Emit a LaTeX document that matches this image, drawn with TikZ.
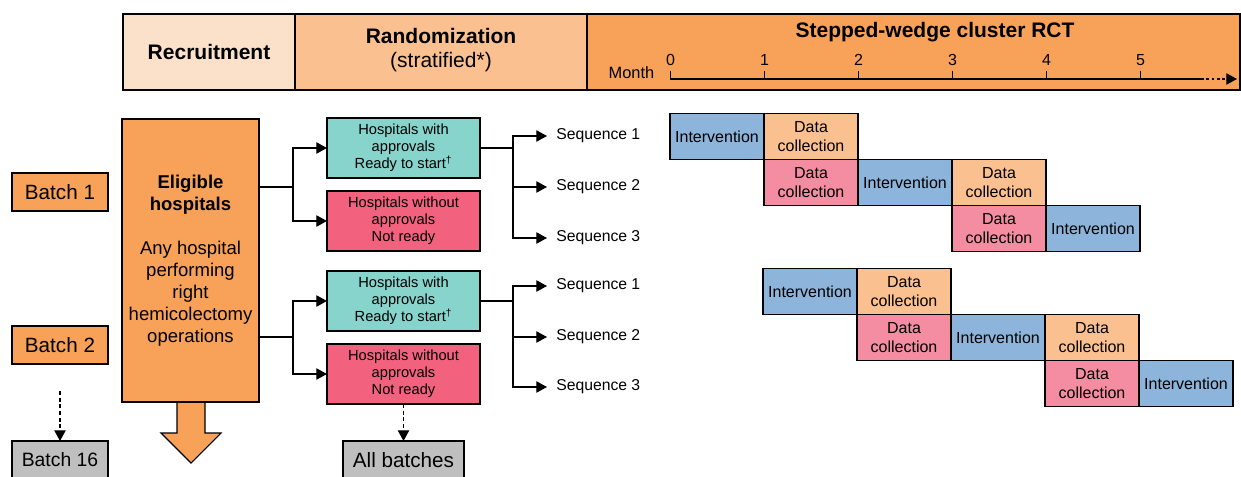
\documentclass[tikz,border=0pt]{standalone}
\usepackage{fontspec}
\setmainfont{Liberation Sans}
\usetikzlibrary{arrows.meta,positioning}

\definecolor{recrfill}{HTML}{FCE1CA}
\definecolor{randfill}{HTML}{FAC090}
\definecolor{swfill}{HTML}{F8A259}
\definecolor{intfill}{HTML}{8DB4DA}
\definecolor{dcfill}{HTML}{FAC090}
\definecolor{dcpink}{HTML}{F58DA2}
\definecolor{withfill}{HTML}{86D4CC}
\definecolor{wofill}{HTML}{F2627F}
\definecolor{greyfill}{HTML}{BFBFBF}

\tikzset{
  tip/.style={-{Triangle[length=8pt,width=8.5pt]}},
  conn/.style={line width=0.9pt, tip},
  dashconn/.style={line width=0.8pt, dash pattern=on 3pt off 2pt, tip},
  box/.style={draw, line width=0.8pt, inner sep=0pt, outer sep=0pt, align=center},
  hdrcell/.style={box, minimum height=57pt},
  batchbox/.style={box, fill=swfill, minimum width=72pt, minimum height=28.5pt,
    font=\fontsize{15.5}{18}\selectfont},
  randbox/.style={box, minimum width=114.75pt, minimum height=45pt,
    font=\fontsize{11}{12.75}\selectfont},
  seqlabel/.style={anchor=west, inner xsep=6.75pt, inner ysep=0pt,
    font=\fontsize{11.8}{14}\selectfont},
  gbox/.style={box, minimum width=70.5pt, minimum height=34.5pt,
    font=\fontsize{12}{14.25}\selectfont},
  interv/.style={gbox, fill=intfill},
  dcoll/.style={gbox, fill=dcfill},
  dcpre/.style={gbox, fill=dcpink}
}

\begin{document}
\begin{tikzpicture}[x=0.75pt,y=-0.75pt]
\useasboundingbox (0,0) rectangle (1241,477);

% header band
\node[hdrcell, fill=recrfill, minimum width=129pt, font=\fontsize{15.75}{18}\selectfont\bfseries] (recr) at (209,52) {Recruitment};
\node[hdrcell, fill=randfill, minimum width=219pt] (rand) at (441,52) {};
\node[font=\fontsize{15.75}{18}\selectfont, align=center] (randtxt) at (441,50) {\textbf{Randomization}\\(stratified*)};
\node[hdrcell, fill=swfill, minimum width=489.75pt] (swrct) at (913.5,52) {};
\node[font=\fontsize{15.75}{18}\selectfont\bfseries] (swtitle) at (935,32) {Stepped-wedge cluster RCT};
\node[font=\fontsize{12.3}{14}\selectfont] (month) at (631.5,73) {Month};

% month axis
\draw[line width=0.9pt] (670.5,71) -- (670.5,79) -- (1201,79);
\foreach \m in {0,...,5}{
  \draw[line width=0.9pt] (670.5+94*\m,71) -- (670.5+94*\m,79);
  \node[font=\fontsize{12}{14}\selectfont] at (670.5+94*\m,60) {\m};
}
\draw[line width=0.9pt, dash pattern=on 2pt off 2pt, tip] (1201,79) -- (1237,79);

% batches
\node[batchbox] (batch1) at (60,192) {Batch 1};
\node[batchbox] (batch2) at (60,345) {Batch 2};
\node[batchbox, fill=greyfill, font=\fontsize{14.5}{18}\selectfont] (batch16) at (60,460) {Batch 16};
\coordinate (bdots) at (60,391);
\draw[dashconn] (bdots) -- (batch16.north);

% eligible hospitals
\draw[line width=0.8pt, fill=swfill] (177,402) -- (177,433) -- (161,433) -- (191,463)
  -- (221,433) -- (205,433) -- (205,402);
\node[box, fill=swfill, minimum width=102.75pt, minimum height=212.25pt,
  font=\fontsize{13.9}{16.5}\selectfont] (elig) at (190.5,260.5)
  {\textbf{Eligible}\\\textbf{hospitals}\\[16.5pt]Any hospital\\performing\\right\\hemicolectomy\\operations};

% randomization
\node[randbox, fill=withfill] (with1) at (403.5,148) {Hospitals with\\approvals\\Ready to start\textsuperscript{†}};
\node[randbox, fill=wofill] (wo1) at (403.5,221) {Hospitals without\\approvals\\Not ready};
\node[randbox, fill=withfill] (with2) at (403.5,301) {Hospitals with\\approvals\\Ready to start\textsuperscript{†}};
\node[randbox, fill=wofill] (wo2) at (403.5,374) {Hospitals without\\approvals\\Not ready};
\node[box, fill=greyfill, minimum width=90.75pt, minimum height=28.5pt,
  font=\fontsize{15.5}{18}\selectfont] (allb) at (403.5,460) {All batches};
\draw[dashconn] (wo2.south) -- (allb.north);

\coordinate (fork1) at (293,187);
\coordinate (fork2) at (293,337);
\draw[line width=0.9pt] (elig.east |- fork1) -- (fork1);
\draw[conn] (fork1) |- (with1.west);
\draw[conn] (fork1) |- (wo1.west);
\draw[line width=0.9pt] (elig.east |- fork2) -- (fork2);
\draw[conn] (fork2) |- (with2.west);
\draw[conn] (fork2) |- (wo2.west);

% sequences
\node[seqlabel] (seq11) at (547,136) {Sequence 1};
\node[seqlabel] (seq12) at (547,187) {Sequence 2};
\node[seqlabel] (seq13) at (547,238) {Sequence 3};
\node[seqlabel] (seq21) at (547,286) {Sequence 1};
\node[seqlabel] (seq22) at (547,337) {Sequence 2};
\node[seqlabel] (seq23) at (547,387) {Sequence 3};
\coordinate (sfork1) at (513,148);
\coordinate (sfork2) at (513,301);
\draw[line width=0.9pt] (with1.east) -- (sfork1);
\draw[conn] (sfork1) |- (seq11.west);
\draw[conn] (sfork1) |- (seq12.west);
\draw[conn] (sfork1) |- (seq13.west);
\draw[line width=0.9pt] (with2.east) -- (sfork2);
\draw[conn] (sfork2) |- (seq21.west);
\draw[conn] (sfork2) |- (seq22.west);
\draw[conn] (sfork2) |- (seq23.west);

% stepped wedge, batch 1
\node[interv] (a11) at (717,136.5) {Intervention};
\node[dcoll, right=0pt of a11] (a12) {Data\\collection};
\node[dcpre, below=0pt of a12] (a21) {Data\\collection};
\node[interv, right=0pt of a21] (a22) {Intervention};
\node[dcoll, right=0pt of a22] (a23) {Data\\collection};
\node[dcpre, below=0pt of a23] (a31) {Data\\collection};
\node[interv, right=0pt of a31] (a32) {Intervention};

% stepped wedge, batch 2
\node[interv] (c11) at (810,291.5) {Intervention};
\node[dcoll, right=0pt of c11] (c12) {Data\\collection};
\node[dcpre, below=0pt of c12] (c21) {Data\\collection};
\node[interv, right=0pt of c21] (c22) {Intervention};
\node[dcoll, right=0pt of c22] (c23) {Data\\collection};
\node[dcpre, below=0pt of c23] (c31) {Data\\collection};
\node[interv, right=0pt of c31] (c32) {Intervention};
\end{tikzpicture}
\end{document}
